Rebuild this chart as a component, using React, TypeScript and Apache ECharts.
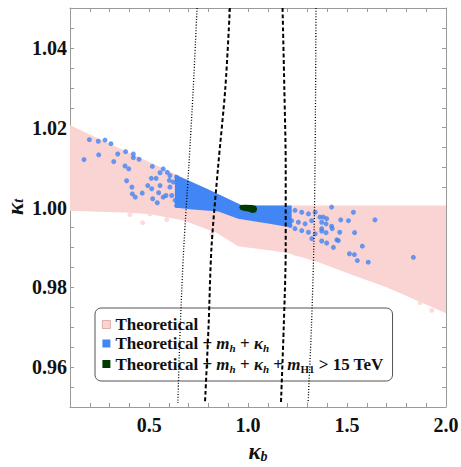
import React, { useEffect, useRef } from 'react';
import * as echarts from 'echarts';

const NAME_T = 'Theoretical';
const NAME_TM = 'Theoretical + m_h + κ_h';
const NAME_TMH = 'Theoretical + m_h + κ_h + m_H1 > 15 TeV';

// Outline of the pink "Theoretical" scan region [kappa_b, kappa_t]
const pinkRegion: number[][] = [
  [0.1, 1.0206], [0.3, 1.016], [0.5, 1.0114], [0.7, 1.0068], [0.97, 1.0005], [1.3, 1.0005], [2.0, 1.0005],
  [2.0, 0.9735], [1.87, 0.9763], [1.7, 0.98], [1.53, 0.983], [1.36, 0.9862], [1.19, 0.9887],
  [0.95, 0.9903], [0.84, 0.9937], [0.67, 0.9968], [0.5, 0.9984], [0.4, 0.9987], [0.1, 0.9992],
];

// Stray pink points outside the dense region
const pinkStray: number[][] = [
  [0.403, 0.9982], [0.467, 0.9962], [0.504, 0.9984], [0.589, 0.997], [0.614, 0.998],
  [0.816, 0.9932], [0.857, 0.9945], [0.934, 0.9935], [1.237, 0.9885], [1.633, 0.9826],
  [1.692, 0.9809], [1.72, 0.9802], [1.768, 0.9795], [1.869, 0.9762], [1.928, 0.9742],
];

// Dense blue band outline
const blueBand: number[][] = [
  [0.63, 1.0083], [0.8, 1.0045], [0.97, 1.0005], [1.22, 1.0005],
  [1.22, 0.995], [1.1, 0.996], [0.95, 0.9972], [0.85, 0.999], [0.72, 0.9995], [0.63, 1.0],
];

// Individual blue points
const blueScatter: number[][] = [
  [0.198, 1.017], [0.243, 1.0166], [0.277, 1.0169], [0.307, 1.016], [0.171, 1.012], [0.245, 1.0132],
  [0.341, 1.0134], [0.381, 1.014], [0.42, 1.0134], [0.42, 1.0125], [0.449, 1.0121], [0.321, 1.0115],
  [0.378, 1.0104], [0.397, 1.0097], [0.386, 1.0067], [0.413, 1.0051], [0.415, 1.0034], [0.43, 1.0026],
  [0.465, 1.0036], [0.516, 1.0103], [0.493, 1.0055], [0.513, 1.0047], [0.518, 1.0022], [0.541, 1.0012],
  [0.548, 1.0037], [0.555, 1.0055], [0.511, 1.0073], [0.535, 1.0073], [0.555, 1.0087], [0.571, 1.0097],
  [0.592, 1.0088], [0.605, 1.008], [0.571, 1.0026], [0.585, 1.003], [0.605, 1.0051], [0.602, 1.0068],
  [0.622, 1.0064], [0.639, 1.0076], [0.614, 1.003], [0.631, 1.0018], [0.647, 1.0038], [0.656, 1.0009],
  [0.639, 1.0005],
  [1.237, 0.9993], [1.271, 0.9988], [1.305, 0.9984], [1.339, 0.9988], [1.22, 0.9967], [1.254, 0.9963],
  [1.288, 0.9959], [1.321, 0.9967], [1.363, 0.9976], [1.237, 0.9947], [1.271, 0.9942], [1.305, 0.9938],
  [1.339, 0.9934], [1.322, 0.9922], [1.372, 0.9947], [1.212, 0.9955],
  [1.422, 1.0001], [1.532, 0.9988], [1.641, 0.9969], [1.468, 0.9969], [1.507, 0.9967], [1.38, 0.9976],
  [1.397, 0.9972], [1.372, 0.9963], [1.394, 0.9959], [1.422, 0.9953], [1.425, 0.9947], [1.372, 0.9941],
  [1.394, 0.9937], [1.463, 0.9938], [1.538, 0.9937], [1.372, 0.9916], [1.397, 0.9911], [1.448, 0.9919],
  [1.456, 0.9917], [1.431, 0.99], [1.577, 0.9903], [1.512, 0.9884], [1.537, 0.9882], [1.552, 0.9867],
  [1.607, 0.9863], [1.835, 0.9875],
];

// Dark green blob
const greenRegion: number[][] = [
  [0.955, 1.0001], [0.962, 1.0006], [0.985, 1.0007], [1.02, 1.0006], [1.04, 1.0004], [1.046, 0.9996],
  [1.04, 0.9988], [1.02, 0.9986], [1.0, 0.999], [0.975, 0.9992], [0.96, 0.9995],
];

// Contour curves
const dottedLeft: number[][] = [[0.742, 1.05], [0.723, 1.03], [0.7, 1.01], [0.675, 0.99], [0.657, 0.97], [0.645, 0.951]];
const dashedLeft: number[][] = [[0.908, 1.05], [0.885, 1.03], [0.848, 1.01], [0.815, 0.99], [0.8, 0.97], [0.782, 0.951]];
const dashedRight: number[][] = [[1.174, 1.05], [1.183, 1.03], [1.19, 1.01], [1.19, 0.99], [1.18, 0.97], [1.166, 0.951]];
const dottedRight: number[][] = [[1.343, 1.05], [1.341, 1.03], [1.338, 1.01], [1.332, 0.99], [1.32, 0.97], [1.303, 0.951]];

const X_MIN = 0.1, X_MAX = 2.0, X_STEP = 0.1;
const Y_MIN = 0.95, Y_MAX = 1.05, Y_STEP = 0.005;

const SERIF = "'Liberation Serif', 'DejaVu Serif', serif";
const PINK = '#fad3d3';
const BLUE = '#4285f4';
const GREEN = '#003a00';
const FRAME = '#9a9a9a';

function polygonSeries(name: string, pts: number[][], color: string, z: number) {
  return {
    type: 'custom',
    name,
    z,
    data: pts,
    silent: true,
    renderItem: (params: any, api: any) => {
      if (params.dataIndex !== 0) return null;
      const points = pts.map((p) => api.coord(p));
      return { type: 'polygon', shape: { points }, style: { fill: color } };
    },
  };
}

function curveSeries(pts: number[][], dotted: boolean) {
  return {
    type: 'line',
    data: pts,
    showSymbol: false,
    symbol: 'none',
    smooth: 0.3,
    silent: true,
    z: 10,
    lineStyle: dotted
      ? { color: '#000', width: 1.3, type: [1, 1.8] }
      : { color: '#000', width: 2, type: [4, 2.5] },
  };
}

export default function App() {
  const ref = useRef<HTMLDivElement>(null);
  useEffect(() => {
    if (!ref.current) return;
    const chart = echarts.init(ref.current, undefined, { renderer: 'svg' });
    const xLabel = (v: number) => {
      const r = Math.round(v * 10);
      return r % 5 === 0 ? (r / 10).toFixed(1) : '';
    };
    const yLabel = (v: number) => {
      const r = Math.round(v * 1000);
      return r % 20 === 0 ? (r / 1000).toFixed(2) : '';
    };
    const tickStyle = { show: true, inside: true, length: 4, lineStyle: { color: FRAME, width: 1 } };
    const lineStyle = { show: true, lineStyle: { color: FRAME, width: 1 } };
    const labelStyle = { color: '#111', fontFamily: SERIF, fontWeight: 'bold', fontSize: 20 };
    const nameRichX = {
      k: { fontFamily: SERIF, fontStyle: 'italic', fontWeight: 'bold', fontSize: 23, color: '#111' },
      s: { fontFamily: SERIF, fontStyle: 'italic', fontWeight: 'bold', fontSize: 14, color: '#111', padding: [10, 0, 0, 0] },
    };
    const nameRichY = {
      k: { fontFamily: SERIF, fontStyle: 'italic', fontWeight: 'bold', fontSize: 23, fill: '#111' },
      s: { fontFamily: SERIF, fontStyle: 'italic', fontWeight: 'bold', fontSize: 14, fill: '#111', padding: [7, 0, 0, 0] },
    };
    const legendRich = {
      b: { fontFamily: SERIF, fontWeight: 'bold', fontSize: 17, color: '#111' },
      i: { fontFamily: SERIF, fontWeight: 'bold', fontStyle: 'italic', fontSize: 17, color: '#111' },
      s: { fontFamily: SERIF, fontWeight: 'bold', fontStyle: 'italic', fontSize: 11, color: '#111', padding: [9, 0, 0, 0] },
      u: { fontFamily: SERIF, fontWeight: 'bold', fontSize: 11, color: '#111', padding: [9, 0, 0, 0] },
    };
    const legendText: Record<string, string> = {
      [NAME_T]: '{b|Theoretical}',
      [NAME_TM]: '{b|Theoretical + }{i|m}{s|h}{b| + }{i|κ}{s|h}',
      [NAME_TMH]: '{b|Theoretical + }{i|m}{s|h}{b| + }{i|κ}{s|h}{b| + }{i|m}{u|H1}{b| > 15 TeV}',
    };
    chart.setOption({
      animation: false,
      backgroundColor: '#fff',
      grid: { left: 70, right: 15, top: 8, bottom: 60, containLabel: false, outerBoundsMode: 'none' },
      graphic: [
        {
          type: 'text', x: 15, y: 207, rotation: Math.PI / 2, silent: true,
          style: { text: '{k|κ}{s|t}', rich: nameRichY, align: 'center', verticalAlign: 'middle' },
        },
      ],
      xAxis: [
        {
          type: 'value', min: X_MIN, max: X_MAX, interval: X_STEP, position: 'bottom',
          axisLine: lineStyle, axisTick: tickStyle, splitLine: { show: false },
          axisLabel: { ...labelStyle, formatter: xLabel, margin: 8, showMinLabel: true, showMaxLabel: true },
          name: '{k|κ}{s|b}', nameLocation: 'middle', nameGap: 32, nameMoveOverlap: false,
          nameTextStyle: { rich: nameRichX },
        },
        {
          type: 'value', min: X_MIN, max: X_MAX, interval: X_STEP, position: 'top',
          axisLine: lineStyle, axisTick: tickStyle, splitLine: { show: false }, axisLabel: { show: false },
        },
      ],
      yAxis: [
        {
          type: 'value', min: Y_MIN, max: Y_MAX, interval: Y_STEP, position: 'left',
          axisLine: lineStyle, axisTick: tickStyle, splitLine: { show: false },
          axisLabel: { ...labelStyle, formatter: yLabel, margin: 3 },
        },
        {
          type: 'value', min: Y_MIN, max: Y_MAX, interval: Y_STEP, position: 'right',
          axisLine: lineStyle, axisTick: tickStyle, splitLine: { show: false }, axisLabel: { show: false },
        },
      ],
      legend: {
        orient: 'vertical', left: 95, top: 308,
        padding: [8, 9, 7, 7], itemGap: 2, itemWidth: 8, itemHeight: 8,
        borderColor: '#555', borderWidth: 1, borderRadius: 6,
        backgroundColor: 'rgba(255,255,255,0)',
        selectedMode: false,
        data: [
          { name: NAME_T, icon: 'rect', itemStyle: { color: PINK, borderColor: '#d9a0a0', borderWidth: 0.8 } },
          { name: NAME_TM, icon: 'rect', itemStyle: { color: BLUE } },
          { name: NAME_TMH, icon: 'rect', itemStyle: { color: GREEN } },
        ],
        formatter: (n: string) => legendText[n],
        textStyle: { fontFamily: SERIF, fontWeight: 'bold', fontSize: 17, color: '#111', rich: legendRich },
      },
      series: [
        { ...polygonSeries(NAME_T, pinkRegion, PINK, 1), itemStyle: { color: PINK } },
        {
          type: 'scatter', name: NAME_T, data: pinkStray, symbolSize: 5, z: 1, silent: true,
          itemStyle: { color: PINK },
        },
        { ...polygonSeries(NAME_TM, blueBand, BLUE, 2), itemStyle: { color: BLUE } },
        {
          type: 'scatter', name: NAME_TM, data: blueScatter, symbolSize: 5, z: 3, silent: true,
          itemStyle: { color: BLUE },
        },
        { ...polygonSeries(NAME_TMH, greenRegion, GREEN, 4), itemStyle: { color: GREEN } },
        curveSeries(dottedLeft, true),
        curveSeries(dashedLeft, false),
        curveSeries(dashedRight, false),
        curveSeries(dottedRight, true),
      ],
    });
    return () => chart.dispose();
  }, []);
  return <div ref={ref} style={{ position: 'absolute', left: 0, top: 0, width: 461, height: 467 }} />;
}
